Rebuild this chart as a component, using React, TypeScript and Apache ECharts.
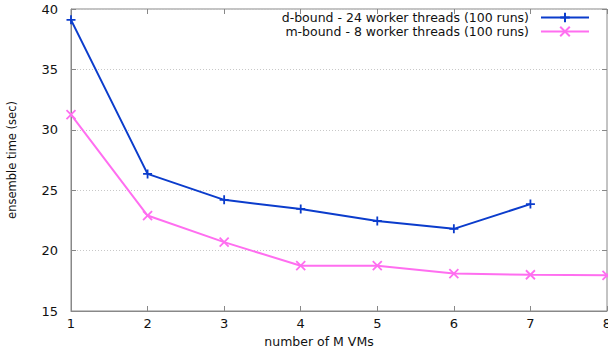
import React, { useEffect, useRef } from "react";
import * as echarts from "echarts";

const xValuesD = [1, 2, 3, 4, 5, 6, 7];
const dBound = [39.1, 26.35, 24.2, 23.45, 22.45, 21.8, 23.85];
const xValuesM = [1, 2, 3, 4, 5, 6, 7, 8];
const mBound = [31.25, 22.9, 20.7, 18.75, 18.75, 18.1, 18.0, 17.95];
const seriesNames = [
  "d-bound - 24 worker threads (100 runs)",
  "m-bound - 8 worker threads (100 runs)",
];
const xAxisName = "number of M VMs";
const yAxisName = "ensemble time (sec)";

const BLUE = "#0b3ccc";
const PINK = "#ff6ef0";
const PLUS = "path://M0,5L10,5M5,0L5,10";
const CROSS = "path://M0,0L10,10M10,0L0,10";
const FONT = "DejaVu Sans";

export default function App() {
  const ref = useRef<HTMLDivElement>(null);
  useEffect(() => {
    if (!ref.current) return;
    const chart = echarts.init(ref.current, undefined, { renderer: "svg" });
    const txt = { color: "#111", fontFamily: FONT, fontSize: 13 };
    const tick = { show: true, inside: true, length: 5, lineStyle: { color: "#888" } };
    chart.setOption({
      animation: false,
      backgroundColor: "#fff",
      grid: {
        left: 71,
        right: 1,
        top: 9,
        bottom: 40,
        show: true,
        borderColor: "#888",
        borderWidth: 1,
        containLabel: false,
        outerBoundsMode: "none",
      },
      legend: [0, 1].map((i) => ({
        data: [seriesNames[i]],
        right: 18,
        top: 11 + i * 14,
        align: "right",
        itemWidth: 48,
        itemHeight: 12,
        itemGap: 0,
        padding: 0,
        textStyle: { ...txt, fontSize: 12.5, lineHeight: 12, padding: [0, 7, 0, 0] },
      })),
      xAxis: [
        {
          type: "value",
          min: 1,
          max: 8,
          interval: 1,
          name: xAxisName,
          nameLocation: "middle",
          nameGap: 24,
          nameTextStyle: { ...txt, fontSize: 12.5, padding: [0, 40, 0, 0] },
          axisLine: { show: true, lineStyle: { color: "#888" } },
          axisTick: tick,
          axisLabel: { ...txt, margin: 6 },
          splitLine: { show: false },
        },
        {
          type: "value",
          position: "top",
          min: 1,
          max: 8,
          interval: 1,
          axisLine: { show: false },
          axisTick: tick,
          axisLabel: { show: false },
          splitLine: { show: false },
        },
      ],
      yAxis: [
        {
          type: "value",
          min: 15,
          max: 40,
          interval: 5,
          name: yAxisName,
          nameLocation: "middle",
          nameGap: 53,
          nameTextStyle: { ...txt, fontSize: 11.5 },
          axisLine: { show: true, lineStyle: { color: "#888" } },
          axisTick: tick,
          axisLabel: { ...txt, margin: 13 },
          splitLine: {
            show: true,
            lineStyle: { color: "#c8c8c8", type: [1, 2], width: 1 },
          },
        },
        {
          type: "value",
          position: "right",
          min: 15,
          max: 40,
          interval: 5,
          axisLine: { show: false },
          axisTick: tick,
          axisLabel: { show: false },
          splitLine: { show: false },
        },
      ],
      series: [
        {
          name: seriesNames[0],
          type: "line",
          data: xValuesD.map((x, i) => [x, dBound[i]]),
          symbol: PLUS,
          symbolSize: 9,
          showAllSymbol: true,
          lineStyle: { color: BLUE, width: 2 },
          itemStyle: { color: BLUE, borderColor: BLUE, borderWidth: 1.8 },
        },
        {
          name: seriesNames[1],
          type: "line",
          data: xValuesM.map((x, i) => [x, mBound[i]]),
          symbol: CROSS,
          symbolSize: 9,
          showAllSymbol: true,
          lineStyle: { color: PINK, width: 2 },
          itemStyle: { color: PINK, borderColor: PINK, borderWidth: 1.8 },
        },
      ],
    });
    return () => chart.dispose();
  }, []);
  return (
    <div
      ref={ref}
      style={{ position: "fixed", left: 0, top: 0, width: 608, height: 351 }}
    />
  );
}
